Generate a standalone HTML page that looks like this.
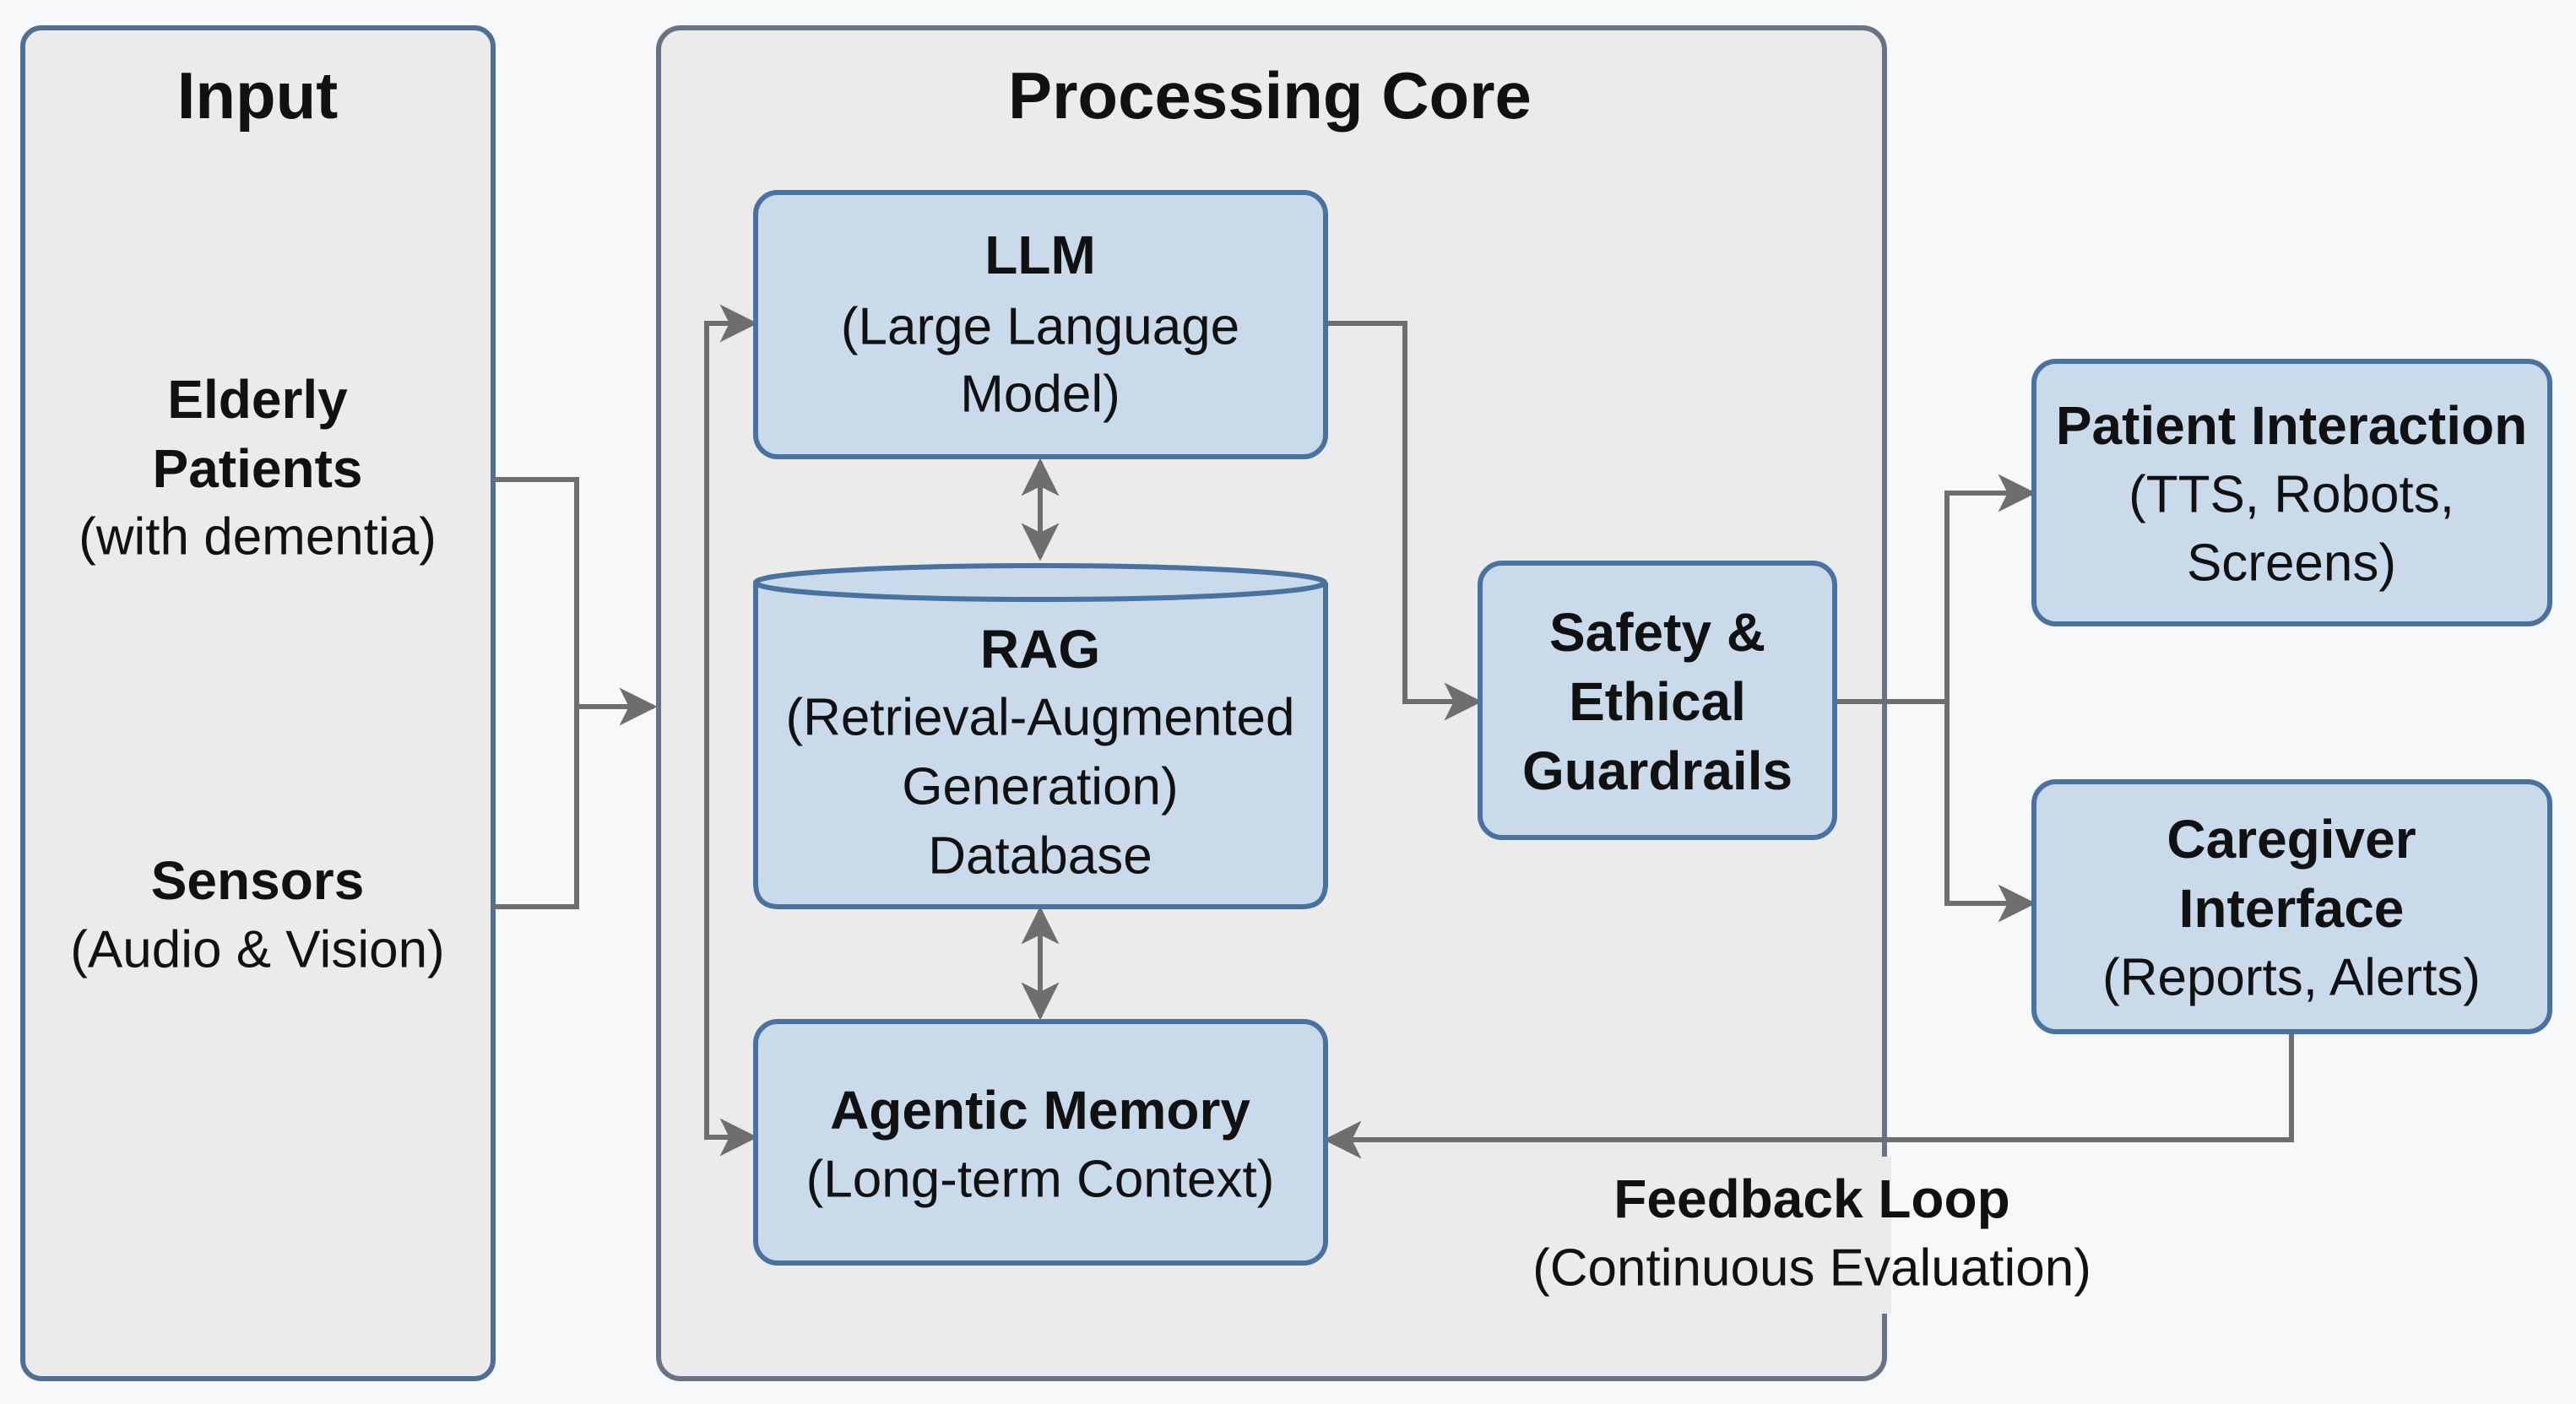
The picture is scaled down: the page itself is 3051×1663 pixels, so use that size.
<!DOCTYPE html>
<html><head><meta charset="utf-8"><style>
html,body{margin:0;padding:0;background:#f7f8fa;}
svg{display:block;}
text{font-family:"Liberation Sans",Arial,sans-serif;fill:#111;text-anchor:middle;dominant-baseline:central;}
.b{font-weight:bold;font-size:64px;}
.n{font-size:62px;}
.t{font-weight:bold;font-size:78px;}
</style></head><body>
<svg width="3051" height="1663" viewBox="0 0 3051 1663" xmlns="http://www.w3.org/2000/svg">
<defs>
<marker id="ar" viewBox="0 0 10 10" refX="9" refY="5" markerWidth="7.5" markerHeight="7.5" orient="auto-start-reverse" markerUnits="strokeWidth">
<path d="M0,0 L10,5 L0,10 L2.5,5 z" fill="#6e6e6e"/></marker>
</defs>
<rect x="0" y="0" width="3051" height="1663" fill="#f7f8fa"/>
<!-- panels -->
<rect x="27" y="33" width="557" height="1600" rx="22" fill="#ebebeb" stroke="#4f6f96" stroke-width="6"/>
<rect x="780" y="33" width="1452" height="1600" rx="26" fill="#ebebeb" stroke="#687486" stroke-width="6"/>
<rect x="2226" y="1370" width="14" height="186" fill="#ebebeb"/>
<text class="t" x="305" y="113">Input</text>
<text class="t" x="1504" y="113">Processing Core</text>
<!-- connectors -->
<g fill="none" stroke="#6e6e6e" stroke-width="6">
<path d="M584 568 H683 V1074 H584"/>
<path d="M683 837 H774" marker-end="url(#ar)"/>
<path d="M893 383 H837 V1347 H893" marker-start="url(#ar)" marker-end="url(#ar)"/>
<path d="M1570 383 H1664 V831 H1751" marker-end="url(#ar)"/>
<path d="M2173 831 H2306"/>
<path d="M2407 584 H2306 V1070 H2407" marker-start="url(#ar)" marker-end="url(#ar)"/>
<path d="M1232 547 V660" marker-start="url(#ar)" marker-end="url(#ar)"/>
<path d="M1232 1078 V1204" marker-start="url(#ar)" marker-end="url(#ar)"/>
<path d="M2714 1222 V1350 H1572" marker-end="url(#ar)"/>
</g>
<!-- boxes -->
<g fill="#c9daea" stroke="#4a72a0" stroke-width="6">
<rect x="895" y="228" width="675" height="313" rx="26"/>
<path d="M895 690 V1046 Q895 1074 923 1074 H1542 Q1570 1074 1570 1046 V690"/>
<ellipse cx="1232" cy="690" rx="337" ry="20"/>
<rect x="895" y="1210" width="675" height="286" rx="26"/>
<rect x="1753" y="667" width="420" height="325" rx="26"/>
<rect x="2409" y="428" width="611" height="311" rx="26"/>
<rect x="2409" y="926" width="611" height="296" rx="26"/>
</g>
<!-- input texts -->
<text class="b" x="305" y="473">Elderly</text>
<text class="b" x="305" y="555">Patients</text>
<text class="n" x="305" y="636">(with dementia)</text>
<text class="b" x="305" y="1043">Sensors</text>
<text class="n" x="305" y="1125">(Audio &amp; Vision)</text>
<!-- LLM -->
<text class="b" x="1232" y="302">LLM</text>
<text class="n" x="1232" y="387">(Large Language</text>
<text class="n" x="1232" y="467">Model)</text>
<!-- RAG -->
<text class="b" x="1232" y="769">RAG</text>
<text class="n" x="1232" y="850">(Retrieval-Augmented</text>
<text class="n" x="1232" y="932">Generation)</text>
<text class="n" x="1232" y="1014">Database</text>
<!-- Agentic -->
<text class="b" x="1232" y="1315">Agentic Memory</text>
<text class="n" x="1232" y="1397">(Long-term Context)</text>
<!-- Safety -->
<text class="b" x="1963" y="749">Safety &amp;</text>
<text class="b" x="1963" y="831">Ethical</text>
<text class="b" x="1963" y="913">Guardrails</text>
<!-- Patient -->
<text class="b" x="2714" y="504">Patient Interaction</text>
<text class="n" x="2714" y="586">(TTS, Robots,</text>
<text class="n" x="2714" y="667">Screens)</text>
<!-- Caregiver -->
<text class="b" x="2714" y="994">Caregiver</text>
<text class="b" x="2714" y="1076">Interface</text>
<text class="n" x="2714" y="1158">(Reports, Alerts)</text>
<!-- feedback label -->
<text class="b" x="2146" y="1420">Feedback Loop</text>
<text class="n" x="2146" y="1502">(Continuous Evaluation)</text>
</svg>
</body></html>
